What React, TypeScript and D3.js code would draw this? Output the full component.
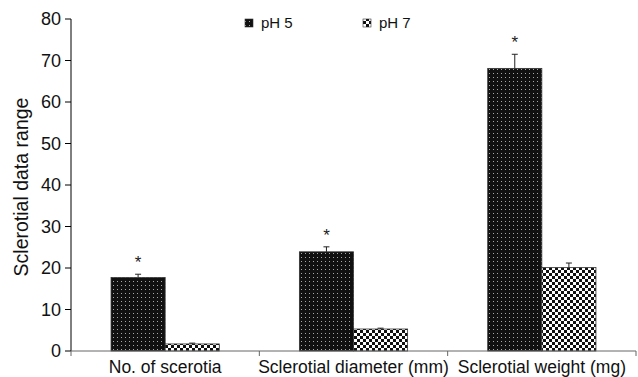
import React from "react";
import * as d3 from "d3";

const categories = ["No. of scerotia", "Sclerotial diameter (mm)", "Sclerotial weight (mg)"];
const seriesNames = ["pH 5", "pH 7"];
const ph5Values = [17.7, 23.9, 68.1];
const ph5Errors = [0.8, 1.2, 3.4];
const ph7Values = [1.7, 5.3, 20.1];
const ph7Errors = [0.2, 0.2, 1.1];
const significant = [true, true, true];
const yTicks = [0, 10, 20, 30, 40, 50, 60, 70, 80];

const W = 638, H = 377;
const left = 71, right = 636, top = 19, bottom = 351;
const FONT = "'Liberation Sans', Arial, sans-serif";

export default function App() {
  const y = d3.scaleLinear().domain([0, 80]).range([bottom, top]);
  const x0 = d3.scaleBand().domain(categories).range([left, right]).padding(0);
  const x1 = d3.scaleBand().domain(seriesNames).range([0, x0.bandwidth()]).paddingInner(0).paddingOuter(0.74);
  const series = [
    { name: seriesNames[0], values: ph5Values, errors: ph5Errors, fill: "url(#dots)" },
    { name: seriesNames[1], values: ph7Values, errors: ph7Errors, fill: "url(#checks)" },
  ];
  const boundaries = [left, ...categories.map((c) => (x0(c) as number) + x0.bandwidth())];

  return (
    <svg width={W} height={H} style={{ position: "absolute", left: 0, top: 0, background: "#fff" }} fontFamily={FONT}>
      <defs>
        <pattern id="dots" width={4} height={4} patternUnits="userSpaceOnUse">
          <rect width={4} height={4} fill="#111" />
          <rect x={1} y={1} width={1} height={1} fill="#a8a8a8" />
        </pattern>
        <pattern id="checks" width={6} height={6} patternUnits="userSpaceOnUse">
          <rect width={6} height={6} fill="#fff" />
          <rect x={0} y={0} width={3} height={3} fill="#111" />
          <rect x={3} y={3} width={3} height={3} fill="#111" />
        </pattern>
      </defs>

      {/* bars */}
      {series.map((s) =>
        categories.map((c, i) => {
          const bx = (x0(c) as number) + (x1(s.name) as number);
          const bw = x1.bandwidth();
          const yt = y(s.values[i]);
          const ye = y(s.values[i] + s.errors[i]);
          const cx = bx + bw / 2;
          return (
            <g key={s.name + c}>
              <rect x={bx} y={yt} width={bw} height={bottom - yt} fill={s.fill} stroke="#333" strokeWidth={0.8} />
              <line x1={cx} x2={cx} y1={yt} y2={ye} stroke="#222" strokeWidth={1} />
              <line x1={cx - 3} x2={cx + 3} y1={ye} y2={ye} stroke="#222" strokeWidth={1} />
              {s.name === "pH 5" && significant[i] && (
                <text x={cx} y={ye - 6} textAnchor="middle" fontSize={17} fill="#222">*</text>
              )}
            </g>
          );
        })
      )}

      {/* y axis */}
      <line x1={left} x2={left} y1={top} y2={bottom} stroke="#000" strokeWidth={1} />
      {yTicks.map((t) => (
        <g key={t}>
          <line x1={left - 6} x2={left} y1={y(t)} y2={y(t)} stroke="#000" strokeWidth={1} />
          <text x={61} y={y(t)} dy="0.35em" textAnchor="end" fontSize={18} fill="#111">{t}</text>
        </g>
      ))}
      <text transform={`translate(21,${(top + bottom) / 2 + 2}) rotate(-90)`} textAnchor="middle" dy="0.35em" fontSize={19.5} fill="#111">
        Sclerotial data range
      </text>

      {/* x axis */}
      <line x1={left} x2={right} y1={bottom} y2={bottom} stroke="#666" strokeWidth={1} />
      {boundaries.map((b, i) => (
        <line key={i} x1={b} x2={b} y1={bottom} y2={bottom + 5} stroke="#666" strokeWidth={1} />
      ))}
      {categories.map((c) => (
        <text key={c} x={(x0(c) as number) + x0.bandwidth() / 2} y={373} textAnchor="middle" fontSize={17.5} fill="#111">
          {c}
        </text>
      ))}

      {/* legend */}
      {series.map((s, i) => {
        const lx = i === 0 ? 245 : 363;
        return (
          <g key={s.name}>
            <rect x={lx} y={19} width={8} height={8} fill={s.fill} stroke="#333" strokeWidth={0.6} />
            <text x={lx + 16} y={23} dy="0.35em" fontSize={15} fill="#111">{s.name}</text>
          </g>
        );
      })}
    </svg>
  );
}
